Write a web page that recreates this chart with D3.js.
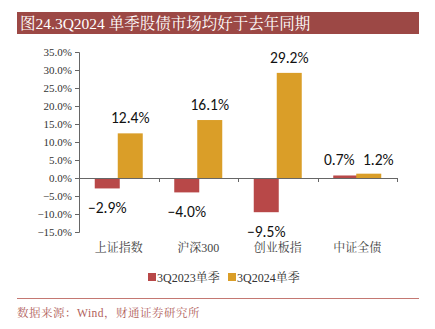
<!DOCTYPE html>
<html><head><meta charset="utf-8">
<script src="https://cdn.jsdelivr.net/npm/d3@7"></script>
<style>body{margin:0;background:#fff}svg{display:block}</style>
</head><body>
<svg id="c" width="435" height="329"></svg>
<script>
const categories = ["上证指数","沪深300","创业板指","中证全债"];
const series = ["3Q2023单季","3Q2024单季"];
const values2023 = [-2.9, -4.0, -9.5, 0.7];
const values2024 = [12.4, 16.1, 29.2, 1.2];
const yTicks = [-15,-10,-5,0,5,10,15,20,25,30,35];
const colors = ["#B84848","#DA9E28"];
const title = "图24.3Q2024 单季股债市场均好于去年同期";
const source = "数据来源：Wind，财通证券研究所";

const svg = d3.select("#c");
const serif = "'Liberation Serif','Noto Serif CJK SC','Noto Sans CJK SC',serif";
const sans = "Carlito,'Liberation Sans','Open Sans',sans-serif";

// title bar
svg.append("rect").attr("x",17).attr("y",12).attr("width",402).attr("height",22).attr("fill","#9C4845");
svg.append("text").attr("x",20).attr("y",28.5).attr("fill","#fff").attr("font-family",serif).attr("font-size",15.5).text(title);

const x = d3.scaleBand().domain(categories).range([79,397]);
const y = d3.scaleLinear().domain([-15,35]).range([232,52]);

// y axis
const ya = svg.append("g").attr("transform","translate(79,0)")
  .call(d3.axisLeft(y).tickValues(yTicks).tickSize(4).tickPadding(3).tickFormat(d=>d3.format(".1f")(d)+"%"));
ya.select(".domain").attr("stroke","#666").attr("d","M-4,52.5H0.5V232.5H-4");
ya.selectAll(".tick line").attr("stroke","#666");
ya.selectAll(".tick text").attr("font-family",serif).attr("font-size",11).attr("fill","#333");

const barW = 25;
const data = categories.map((c,i)=>({c, v:[values2023[i], values2024[i]]}));
const g = svg.append("g");
data.forEach(d=>{
  const cx = x(d.c) + x.bandwidth()/2;
  d.v.forEach((v,j)=>{
    const bx = j===0 ? cx-24 : cx-1;
    g.append("rect").attr("x",bx).attr("width",barW)
      .attr("y",y(Math.max(0,v))).attr("height",Math.abs(y(v)-y(0)))
      .attr("fill",colors[j]);
  });
});

// x axis line (zero)
svg.append("line").attr("x1",79).attr("x2",397).attr("y1",y(0)+0.5).attr("y2",y(0)+0.5).attr("stroke","#666");
categories.forEach((c,i)=>{
  const xx = x(c)+x.bandwidth();
  svg.append("line").attr("x1",Math.round(xx)+0.5).attr("x2",Math.round(xx)+0.5).attr("y1",y(0)).attr("y2",y(0)+4).attr("stroke","#666");
});

// value labels
data.forEach((d,i)=>{
  const cx = x(d.c) + x.bandwidth()/2;
  d.v.forEach((v,j)=>{
    let lx = j===0 ? cx-11.5 : cx+11.5;
    let ly = v>=0 ? y(v)-10 : y(v)+24.5;
    if (d.v[0]>=0 && d.v[1]>=0) { // both positive: side by side above
      lx = j===0 ? cx-18 : cx+21;
      ly = y(Math.max(d.v[0],d.v[1]))-9;
    }
    svg.append("text").attr("x",lx).attr("y",ly).attr("text-anchor","middle")
      .attr("font-family",sans).attr("font-size",15.5).attr("fill","#111").text(d3.format(".1f")(v)+"%");
  });
});

// category labels
categories.forEach(c=>{
  svg.append("text").attr("x",x(c)+x.bandwidth()/2).attr("y",252).attr("text-anchor","middle")
    .attr("font-family",serif).attr("font-size",12).attr("fill","#444").text(c);
});

// legend
const lg = [{x:148},{x:228}];
series.forEach((s,i)=>{
  svg.append("rect").attr("x",lg[i].x).attr("y",273).attr("width",8).attr("height",8).attr("fill",colors[i]);
  svg.append("text").attr("x",lg[i].x+9).attr("y",281.5).attr("font-family",serif).attr("font-size",12).attr("fill","#333").text(s);
});

// bottom line & source
svg.append("line").attr("x1",17).attr("x2",419).attr("y1",298.5).attr("y2",298.5).attr("stroke","#C47872").attr("stroke-width",1);
svg.append("text").attr("x",17).attr("y",317).attr("font-family",serif).attr("font-size",11.5).attr("letter-spacing",0.5).attr("fill","#B0605A").text(source);
</script>
</body></html>
